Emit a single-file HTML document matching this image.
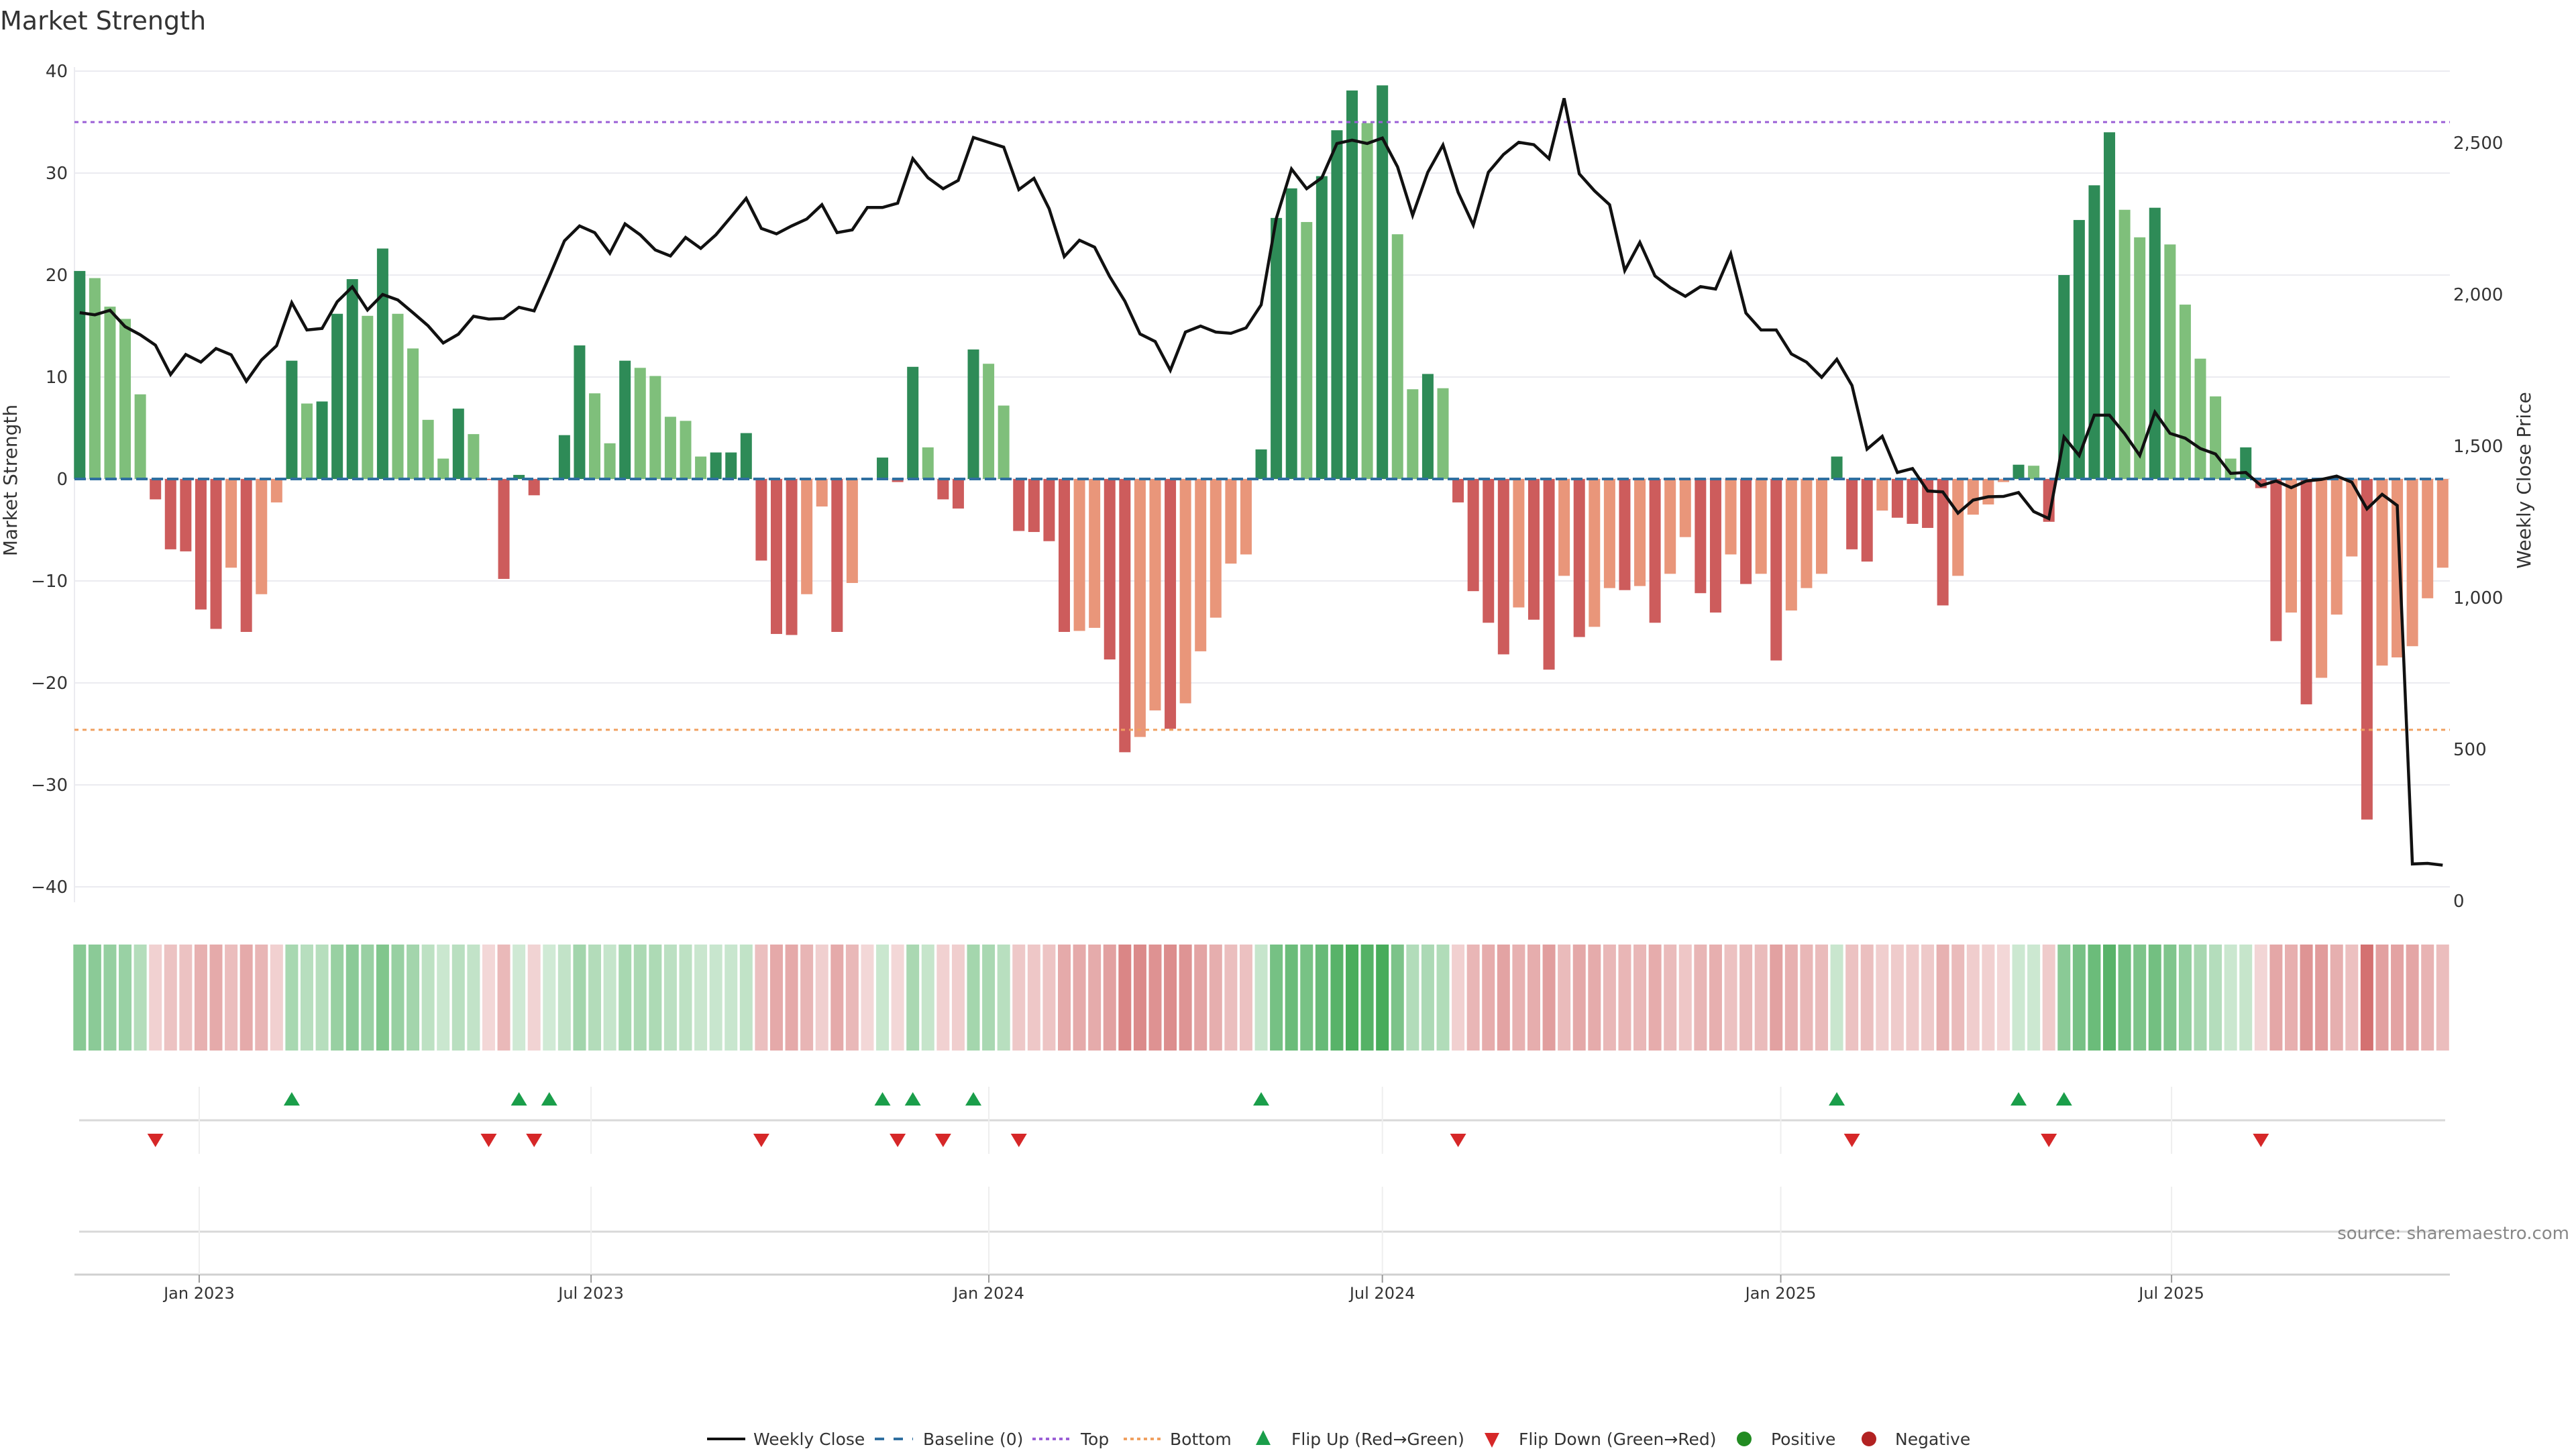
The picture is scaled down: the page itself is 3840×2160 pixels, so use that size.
<!DOCTYPE html>
<html><head><meta charset="utf-8"><title>Market Strength</title>
<style>
html,body{margin:0;padding:0;background:#fff;}
svg{display:block;font-family:"DejaVu Sans","Liberation Sans",sans-serif;}
</style></head>
<body>
<svg id="chart" width="3840" height="2160" viewBox="0 0 3840 2160" xmlns="http://www.w3.org/2000/svg">
<text x="0" y="44" font-size="38" fill="#333">Market Strength</text>
<g id="grid"></g>
<g id="bars"></g>
<g id="refs"></g>
<g id="price"></g>
<g id="axes"></g>
<g id="heat"></g>
<g id="flips"></g>
<g id="legend"></g>
<text x="3830" y="1847" font-size="26" fill="#888" text-anchor="end">source: sharemaestro.com</text>
</svg>
<script>
const strength = [20.4,19.7,16.9,15.7,8.3,-2.0,-6.9,-7.1,-12.8,-14.7,-8.7,-15.0,-11.3,-2.3,11.6,7.4,7.6,16.2,19.6,16.0,22.6,16.2,12.8,5.8,2.0,6.9,4.4,-0.1,-9.8,0.4,-1.6,0.1,4.3,13.1,8.4,3.5,11.6,10.9,10.1,6.1,5.7,
2.2,2.6,2.6,4.5,-8.0,-15.2,-15.3,-11.3,-2.7,-15.0,-10.2,0,2.1,-0.3,11.0,3.1,-2.0,-2.9,12.7,11.3,7.2,-5.1,-5.2,-6.1,-15.0,-14.9,-14.6,-17.7,-26.8,-25.3,-22.7,-24.5,-22.0,-16.9,-13.6,-8.3,-7.4,2.9,25.6,28.5,
25.2,29.7,34.2,38.1,34.9,38.6,24.0,8.8,10.3,8.9,-2.3,-11.0,-14.1,-17.2,-12.6,-13.8,-18.7,-9.5,-15.5,-14.5,-10.7,-10.9,-10.5,-14.1,-9.3,-5.7,-11.2,-13.1,-7.4,-10.3,-9.3,-17.8,-12.9,-10.7,-9.3,2.2,-6.9,-8.1,-3.1,-3.8,
-4.4,-4.8,-12.4,-9.5,-3.5,-2.5,-0.3,1.4,1.3,-4.2,20.0,25.4,28.8,34.0,26.4,23.7,26.6,23.0,17.1,11.8,8.1,2.0,3.1,-0.9,-15.9,-13.1,-22.1,-19.5,-13.3,-7.6,-33.4,-18.3,-17.5,-16.4,-11.7,-8.7];
const closes = [1940,1933,1948,1894,1867,1833,1736,1802,1777,1822,1801,1714,1784,1831,1973,1883,1888,1976,2025,1949,2000,1982,1940,1897,1840,1869,1928,1919,1921,1958,1946,2059,2177,2226,2204,2136,2233,2197,2147,2127,2188,
2152,2197,2256,2317,2218,2200,2226,2249,2296,2204,2213,2287,2287,2301,2448,2385,2349,2376,2518,2502,2486,2346,2383,2283,2125,2179,2156,2059,1978,1870,1845,1750,1876,1896,1876,1872,1890,1966,2251,2414,
2349,2385,2498,2509,2498,2516,2421,2261,2403,2493,2337,2229,2403,2462,2502,2494,2448,2647,2398,2342,2296,2079,2172,2061,2023,1994,2026,2018,2134,1939,1883,1883,1804,1777,1727,1786,1700,1490,1532,1413,
1426,1352,1349,1279,1322,1333,1334,1347,1284,1261,1530,1469,1602,1602,1541,1469,1612,1542,1526,1492,1474,1410,1413,1370,1385,1363,1385,1390,1401,1381,1293,1341,1304,122,124,118];
const leftTicks = [40,30,20,10,0,-10,-20,-30,-40];
const rightTicks = [0,500,1000,1500,2000,2500];
const dateTickLabels = ["Jan 2023","Jul 2023","Jan 2024","Jul 2024","Jan 2025","Jul 2025"];
const dateTickWeeks = [7.89,33.76,60.02,86.0,112.3,138.1];
const topLevel = [35];
const bottomLevel = [-24.6];

const NS="http://www.w3.org/2000/svg";
const X0=118.8, STEP=22.58, PL=111, PR=3652;
const x=i=>X0+i*STEP;
const yS=v=>714-v*15.2;
const yP=p=>1343-p*0.452;
function mk(tag,attrs,parent,txt){const e=document.createElementNS(NS,tag);for(const k in attrs)e.setAttribute(k,attrs[k]);if(txt!==undefined)e.textContent=txt;document.getElementById(parent).appendChild(e);return e;}

leftTicks.forEach(v=>{
  const g=mk('line',{x1:PL,x2:PR,y1:yS(v),y2:yS(v),stroke:'#ebebf0','stroke-width':2},'grid');
  
  
  const t=mk('text',{x:101,y:yS(v)+9,'font-size':26,fill:'#333','text-anchor':'end'},'axes',(v<0?'\u2212'+(-v):String(v)));
  
  
});
mk('line',{x1:PL,x2:PL,y1:100,y2:1345,stroke:'#ebebf0','stroke-width':2},'grid');
rightTicks.forEach(v=>{
  const t=mk('text',{x:3657,y:yP(v)+9,'font-size':26,fill:'#333'},'axes',v.toLocaleString('en-US'));
  
  
});
let yt=mk('text',{x:0,y:0,'font-size':28,fill:'#333','text-anchor':'middle',transform:'translate(25,716) rotate(-90)'},'axes','Market Strength');


let yt2=mk('text',{x:0,y:0,'font-size':28,fill:'#333','text-anchor':'middle',transform:'translate(3772,716) rotate(-90)'},'axes','Weekly Close Price');



strength.forEach((v,i)=>{
  if(v===0)return;
  const prev=i>0?strength[i-1]:-Infinity;
  let c;
  if(v>0) c=(v>=prev)?'#2e8b57':'#7fbf7b';
  else c=(v<=prev||i===0)?'#cd5c5c':'#e9967a';
  const y1=yS(Math.max(v,0)), y2=yS(Math.min(v,0));
  const b=mk('rect',{x:x(i)-8.5,y:y1,width:17,height:Math.max(1,y2-y1),fill:c},'bars');
  
  
});
let bl=mk('line',{x1:PL,x2:PR-10,y1:yS(0),y2:yS(0),stroke:'#2f6fa0','stroke-width':4,'stroke-dasharray':'17 6'},'refs');


let tl=mk('line',{x1:PL,x2:PR,y1:yS(topLevel[0]),y2:yS(topLevel[0]),stroke:'#9b5fd6','stroke-width':3,'stroke-dasharray':'6 6'},'refs');


let bt=mk('line',{x1:PL,x2:PR,y1:yS(bottomLevel[0]),y2:yS(bottomLevel[0]),stroke:'#f0a060','stroke-width':3,'stroke-dasharray':'6 6'},'refs');


const pts=closes.map((p,i)=>x(i).toFixed(1)+','+yP(p).toFixed(1)).join(' ');
let pl=mk('polyline',{points:pts,fill:'none',stroke:'#111','stroke-width':4.5,'stroke-linejoin':'miter'},'price');



strength.forEach((v,i)=>{
  const a=0.22+0.68*Math.min(1,Math.abs(v)/40);
  const c=v>0?`rgba(46,160,67,${a})`:`rgba(200,75,75,${a})`;
  const r=mk('rect',{x:x(i)-9.5,y:1408,width:19,height:158,fill:c},'heat');
  
  
});

mk('line',{x1:118,x2:3645,y1:1670,y2:1670,stroke:'#d8d8d8','stroke-width':3},'flips');
mk('line',{x1:118,x2:3645,y1:1836,y2:1836,stroke:'#d8d8d8','stroke-width':3},'flips');
mk('line',{x1:PL,x2:PR,y1:1900,y2:1900,stroke:'#d0d0d0','stroke-width':3},'flips');
dateTickWeeks.forEach((w,k)=>{
  const xx=x(w);
  mk('line',{x1:xx,x2:xx,y1:1620,y2:1720,stroke:'#eeeeee','stroke-width':2},'flips');
  mk('line',{x1:xx,x2:xx,y1:1769,y2:1900,stroke:'#eeeeee','stroke-width':2},'flips');
  mk('line',{x1:xx,x2:xx,y1:1900,y2:1912,stroke:'#999','stroke-width':2},'flips');
  const t=mk('text',{x:xx,y:1936,'font-size':24,fill:'#333','text-anchor':'middle'},'flips',dateTickLabels[k]);
  
  
});
strength.forEach((v,i)=>{
  if(i===0)return;
  const p=strength[i-1], xx=x(i);
  if(v>0&&p<=0){
    const m=mk('polygon',{points:`${xx},1628 ${xx-12},1648 ${xx+12},1648`,fill:'#1a9e4a'},'flips');
    
    
  } else if(v<=0&&p>0){
    const m=mk('polygon',{points:`${xx-12},1690 ${xx+12},1690 ${xx},1710`,fill:'#d62728'},'flips');
    
    
  }
});

const L='legend', ly=2145;
mk('line',{x1:1054,x2:1111,y1:ly,y2:ly,stroke:'#111','stroke-width':4},L);
mk('text',{x:1123,y:ly+9,'font-size':25,fill:'#333'},L,'Weekly Close');
mk('line',{x1:1304,x2:1361,y1:ly,y2:ly,stroke:'#2f6fa0','stroke-width':4,'stroke-dasharray':'14 14'},L);
mk('text',{x:1376,y:ly+9,'font-size':25,fill:'#333'},L,'Baseline (0)');
mk('line',{x1:1539,x2:1596,y1:ly,y2:ly,stroke:'#9b5fd6','stroke-width':4,'stroke-dasharray':'5 5'},L);
mk('text',{x:1611,y:ly+9,'font-size':25,fill:'#333'},L,'Top');
mk('line',{x1:1675,x2:1732,y1:ly,y2:ly,stroke:'#f0a060','stroke-width':4,'stroke-dasharray':'5 5'},L);
mk('text',{x:1744,y:ly+9,'font-size':25,fill:'#333'},L,'Bottom');
mk('polygon',{points:'1883,2132 1872,2154 1894,2154',fill:'#1a9e4a'},L);
mk('text',{x:1925,y:ly+9,'font-size':25,fill:'#333'},L,'Flip Up (Red\u2192Green)');
mk('polygon',{points:'2213,2136 2235,2136 2224,2158',fill:'#d62728'},L);
mk('text',{x:2264,y:ly+9,'font-size':25,fill:'#333'},L,'Flip Down (Green\u2192Red)');
mk('circle',{cx:2600,cy:ly,r:11,fill:'#228b22'},L);
mk('text',{x:2640,y:ly+9,'font-size':25,fill:'#333'},L,'Positive');
mk('circle',{cx:2786,cy:ly,r:11,fill:'#b22222'},L);
mk('text',{x:2825,y:ly+9,'font-size':25,fill:'#333'},L,'Negative');
</script>
</body></html>
